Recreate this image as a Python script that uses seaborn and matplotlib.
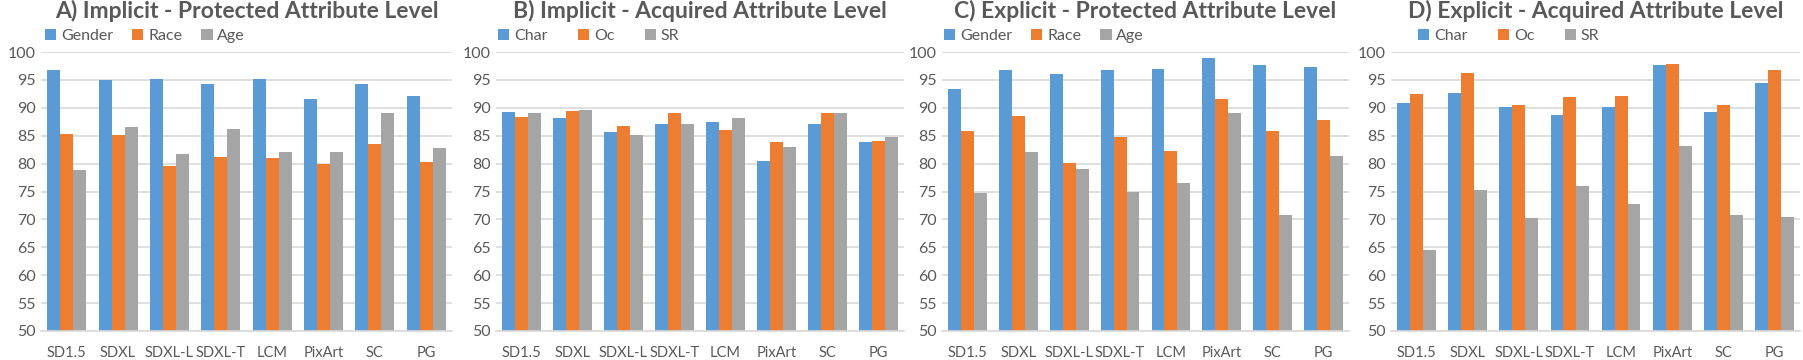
import numpy as np
import pandas as pd
import seaborn as sb
import matplotlib.pyplot as plt

models = ['SD1.5', 'SDXL', 'SDXL-L', 'SDXL-T', 'LCM', 'PixArt', 'SC', 'PG']
protected_attrs = ['Gender', 'Race', 'Age']
acquired_attrs = ['Char', 'Oc', 'SR']

# A) Implicit - Protected
a_gender = [96.8, 94.9, 95.2, 94.3, 95.2, 91.5, 94.3, 92.2]
a_race = [85.3, 85.1, 79.5, 81.1, 81.0, 79.9, 83.5, 80.2]
a_age = [78.9, 86.6, 81.7, 86.2, 82.1, 82.0, 89.0, 82.8]
# B) Implicit - Acquired
b_char = [89.3, 88.1, 85.6, 87.1, 87.4, 80.4, 87.1, 83.9]
b_oc = [88.3, 89.5, 86.8, 89.1, 86.1, 83.8, 89.1, 84.1]
b_sr = [89.1, 89.6, 85.1, 87.1, 88.1, 83.0, 89.1, 84.8]
# C) Explicit - Protected
c_gender = [93.4, 96.8, 96.0, 96.8, 97.0, 98.9, 97.7, 97.4]
c_race = [85.8, 88.5, 80.1, 84.7, 82.3, 91.6, 85.8, 87.8]
c_age = [74.8, 82.0, 79.0, 75.0, 76.6, 89.0, 70.8, 81.3]
# D) Explicit - Acquired
d_char = [90.9, 92.7, 90.1, 88.7, 90.1, 97.7, 89.2, 94.4]
d_oc = [92.5, 96.2, 90.5, 91.9, 92.2, 97.8, 90.5, 96.7]
d_sr = [64.6, 75.2, 70.2, 76.0, 72.7, 83.2, 70.7, 70.5]

titles = ['A) Implicit - Protected Attribute Level',
          'B) Implicit - Acquired Attribute Level',
          'C) Explicit - Protected Attribute Level',
          'D) Explicit - Acquired Attribute Level']

colors = ['#5B9BD5', '#ED7D31', '#A5A5A5']
text_col = '#595959'


def long_df(attrs, series):
    rows = []
    for attr, vals in zip(attrs, series):
        for m, v in zip(models, vals):
            rows.append({'model': m, 'attr': attr, 'value': v})
    return pd.DataFrame(rows)


panels = [
    (protected_attrs, [a_gender, a_race, a_age]),
    (acquired_attrs, [b_char, b_oc, b_sr]),
    (protected_attrs, [c_gender, c_race, c_age]),
    (acquired_attrs, [d_char, d_oc, d_sr]),
]

sb.set_style('white')
plt.rcParams['font.family'] = ['Lato', 'DejaVu Sans']

W, H = 1803, 360
fig = plt.figure(figsize=(W / 100, H / 100), dpi=100)

lefts = [41, 496, 942, 1391]
rights = [452, 904, 1349, 1800]
leg_off = [4, 2, 2, 27]
leg_gap = [1.2, 1.9, 1.2, 1.9]
bottom_px, top_px = 331, 52
ax_h = bottom_px - top_px

for i, (attrs, series) in enumerate(panels):
    ax_w = rights[i] - lefts[i]
    ax = fig.add_axes([lefts[i] / W, 1 - bottom_px / H, ax_w / W, ax_h / H])
    df = long_df(attrs, series)
    sb.barplot(data=df, x='model', y='value', hue='attr', hue_order=attrs,
               palette=colors, saturation=1, width=0.76, ax=ax, edgecolor='none')
    ax.set_ylim(50, 100)
    ax.set_yticks(np.arange(50, 101, 5))
    ax.yaxis.grid(True, color='#D9D9D9', linewidth=1.2)
    ax.set_axisbelow(True)
    for s in ['top', 'right', 'left']:
        ax.spines[s].set_visible(False)
    ax.spines['bottom'].set_color('#D9D9D9')
    ax.spines['bottom'].set_linewidth(1.2)
    ax.tick_params(axis='both', length=0, labelsize=11.5, labelcolor=text_col)
    ax.tick_params(axis='x', pad=11, labelsize=10.5)
    ax.tick_params(axis='y', pad=4)
    ax.set_xlabel('')
    ax.set_ylabel('')
    ax.text(0.5, 1.0 + 41 / ax_h, titles[i], transform=ax.transAxes,
            ha='center', va='center', fontsize=16.5, fontweight='bold', color=text_col)
    ax.legend(loc='center left', bbox_to_anchor=(leg_off[i] / ax_w, 1.0 + 16 / ax_h), ncol=3,
              frameon=False, fontsize=11.5, handlelength=0.7, handleheight=0.7,
              handletextpad=0.3, columnspacing=leg_gap[i], labelcolor=text_col,
              borderaxespad=0, borderpad=0)

fig.savefig('out.png', dpi=100)
